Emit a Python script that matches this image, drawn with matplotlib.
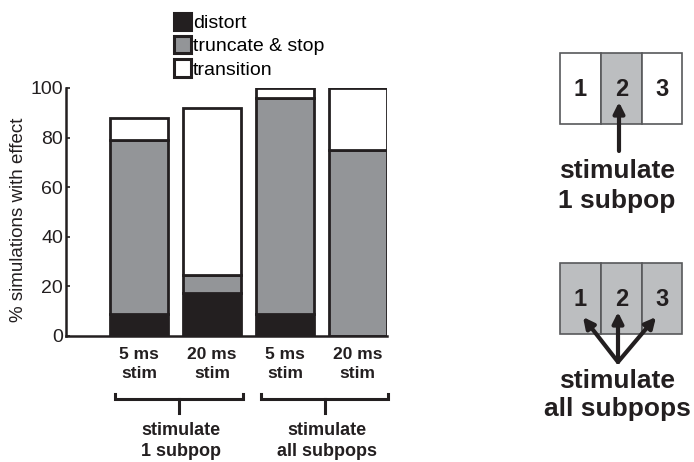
import matplotlib
matplotlib.use('Agg')
import matplotlib.pyplot as plt
import numpy as np
from matplotlib.patches import Rectangle, FancyArrowPatch

plt.rcParams['font.family'] = ['Liberation Sans', 'DejaVu Sans']

# ── Data ──────────────────────────────────────────────────────────────────────
conditions = ['5 ms\nstim', '20 ms\nstim', '5 ms\nstim', '20 ms\nstim']
distort    = [9.0, 17.5, 9.0, 0.0]
truncate   = [70.0, 7.0, 87.0, 75.0]
transition = [9.0, 67.5, 4.0, 25.0]
series_names = ['distort', 'truncate & stop', 'transition']
groups = ['stimulate\n1 subpop', 'stimulate\nall subpops']
group_members = [(0, 1), (2, 3)]

INK = '#231f20'
GRAY = '#939598'
LIGHT = '#bcbec0'
colors = [INK, GRAY, 'white']

W, H = 694, 462
fig = plt.figure(figsize=(W / 100, H / 100), dpi=100)

# main bar axes
ax = fig.add_axes([66 / W, 1 - 336 / H, 321 / W, 248 / H])
pos = np.arange(1, len(conditions) + 1)
bottom = np.zeros(len(conditions))
handles = []
for vals, c, name in zip([distort, truncate, transition], colors, series_names):
    b = ax.bar(pos, vals, width=0.8, bottom=bottom, color=c, edgecolor=INK,
               linewidth=2.0, label=name)
    handles.append(b)
    bottom += np.array(vals)

ax.set_xlim(0, 4.4)
ax.set_ylim(0, 100)
ax.set_yticks(np.arange(0, 101, 20))
ax.tick_params(axis='y', direction='in', length=3, width=1.2, labelsize=14,
               colors=INK, pad=2)
ax.set_xticks(pos)
ax.set_xticklabels(conditions, fontsize=12.5, fontweight='bold', color=INK,
                   linespacing=1.3)
ax.tick_params(axis='x', length=0, pad=8)
for s in ['top', 'right']:
    ax.spines[s].set_visible(False)
for s in ['left', 'bottom']:
    ax.spines[s].set_linewidth(1.8)
    ax.spines[s].set_color(INK)
ax.set_ylabel('% simulations with effect', fontsize=13.5, color=INK, labelpad=0)
ax.yaxis.set_label_coords(-0.12, 0.47)

leg = fig.legend(handles=handles, labels=series_names, loc='upper left',
                 bbox_to_anchor=(166 / W, 1 - 5 / H), frameon=False, fontsize=14,
                 handlelength=0.9, handleheight=1.0, handletextpad=0.1,
                 labelspacing=0.2, borderaxespad=0)
for p in leg.get_patches():
    p.set_linewidth(2.2)

# overlay axes in pixel coordinates for brackets and schematic
ov = fig.add_axes([0, 0, 1, 1])
ov.set_xlim(0, W)
ov.set_ylim(H, 0)
ov.axis('off')

def to_px(x):
    return 66 + (x - 0) / 4.4 * 321

for (i0, i1), label in zip(group_members, groups):
    x0, x1 = to_px(pos[i0] - 0.33), to_px(pos[i1] + 0.42)
    xc = (x0 + x1) / 2
    ov.plot([x0, x0, x1, x1], [394, 399, 399, 394], color=INK, lw=2.2,
            solid_joinstyle='miter')
    ov.plot([xc, xc], [399, 413], color=INK, lw=2.2)
    ov.text(xc + 2, 441, label, ha='center', va='center', fontsize=13,
            fontweight='bold', color=INK, linespacing=1.25)

# schematic of subpopulations
def draw_box(y0, fills):
    xs = [560, 601, 642, 682]
    for k in range(3):
        ov.add_patch(Rectangle((xs[k], y0), xs[k + 1] - xs[k], 71,
                               facecolor=fills[k], edgecolor='#58595b', lw=1.2))
        ov.text((xs[k] + xs[k + 1]) / 2, y0 + 37, str(k + 1), ha='center',
                va='center', fontsize=17, fontweight='bold', color=INK)

def arrow(x0, y0, x1, y1):
    ov.add_patch(FancyArrowPatch((x0, y0), (x1, y1), arrowstyle='-|>',
                                 mutation_scale=16, lw=3, color=INK,
                                 shrinkA=0, shrinkB=0))

draw_box(53, ['white', LIGHT, 'white'])
arrow(619, 151, 619, 102)
ov.text(617, 186, 'stimulate\n1 subpop', ha='center', va='center',
        fontsize=19, fontweight='bold', color=INK, linespacing=1.3)

draw_box(263, [LIGHT, LIGHT, LIGHT])
for tx, ty in [(583, 317), (618, 312), (656, 317)]:
    arrow(618, 362, tx, ty)
ov.text(617, 395, 'stimulate\nall subpops', ha='center', va='center',
        fontsize=19, fontweight='bold', color=INK, linespacing=1.25)

fig.savefig('out.png', dpi=100)
